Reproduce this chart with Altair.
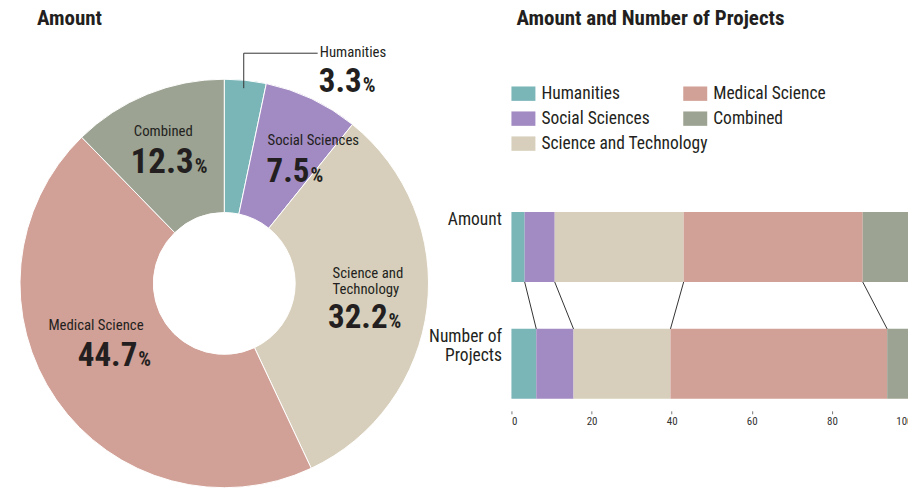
import altair as alt
import pandas as pd

# ---------------- data ----------------
categories = ["Humanities", "Social Sciences", "Science and Technology", "Medical Science", "Combined"]
donut_names = ["Humanities", "Social Sciences", "Science and\nTechnology", "Medical Science", "Combined"]
amount_pct = [3.3, 7.5, 32.2, 44.7, 12.3]
projects_pct = [6.2, 9.3, 24.2, 54.1, 6.2]
series_names = ["Amount", "Number of Projects"]
series_keys = ["amt", "prj"]
colors = ["#7ab5b8", "#a28ac2", "#d7cfbb", "#d1a096", "#9ca392"]
x_ticks = [0, 20, 40, 60, 80, 100]

rows = []
for key, name, vals in zip(series_keys, series_names, [amount_pct, projects_pct]):
    for i, (c, v) in enumerate(zip(categories, vals)):
        rows.append({"key": key, "series": name, "category": c, "idx": i,
                     "value": v, "dname": donut_names[i]})
df = pd.DataFrame(rows)

# ---------------- layout constants ----------------
FONT = "Roboto Condensed, Liberation Sans Narrow, DejaVu Sans Condensed, sans-serif"
INK = "#231f20"
T = 37                      # page y of plot-area tops
W1, W2 = 400, 401
H = 411 - T
CX, CY = 216.5, 283.5 - T   # donut centre inside left panel
R_OUT, R_IN = 204.5, 71
SHIFT = 3.5                 # labels keep their place while the centre moves up
NAME_SIZE = 14.8
NUM_SIZE = 33
PCT_SIZE = 20


def stacked():
    return alt.Chart(df).transform_window(
        cum="sum(value)", sort=[alt.SortField("idx")], groupby=["key"], frame=[None, 0]
    ).transform_calculate(
        start="datum.cum - datum.value", mid="datum.cum - datum.value / 2"
    )


theta_scale = alt.Scale(domain=[0, 100])

# ---------------- donut ----------------
arcs = stacked().transform_filter("datum.key == 'amt'").mark_arc(
    innerRadius=R_IN, outerRadius=R_OUT, stroke="white", strokeWidth=1
).encode(
    theta=alt.Theta("start:Q", scale=theta_scale, stack=False),
    theta2="cum:Q",
    color=alt.Color("category:N", scale=alt.Scale(domain=categories, range=colors), legend=None),
    x=alt.value(CX), y=alt.value(CY),
)

# per label: radius along mid angle, offsets for name and number
label_layout = {
    "Humanities": dict(r=199, name=(75, -32), num=(117, 3), size=NUM_SIZE),
    "Social Sciences": dict(r=150, name=(-21, -6.5), num=(21, 30.5), size=NUM_SIZE),
    "Science and Technology": dict(r=145, name=(-35.5, -25.8), num=(19.5, 23.7), size=NUM_SIZE),
    "Medical Science": dict(r=140, name=(-61, -36.5), num=(28, -0.5), size=NUM_SIZE),
    "Combined": dict(r=150, name=(-34, -12), num=(26, 25), size=NUM_SIZE + 2),
}

text_layers = []
for cat in categories:
    lay = label_layout[cat]
    base = stacked().transform_filter(
        f"datum.key == 'amt' && datum.category == '{cat}'"
    )
    enc = dict(theta=alt.Theta("mid:Q", scale=theta_scale, stack=False),
               x=alt.value(CX), y=alt.value(CY))
    text_layers.append(base.mark_text(
        radius=lay["r"], dx=lay["name"][0], dy=lay["name"][1] + SHIFT, align="left",
        baseline="alphabetic", font=FONT, fontSize=NAME_SIZE, color=INK,
        lineBreak="\n", lineHeight=16,
    ).encode(text="dname:N", **enc))
    text_layers.append(base.mark_text(
        radius=lay["r"], dx=lay["num"][0], dy=lay["num"][1] + SHIFT, align="right",
        baseline="alphabetic", font=FONT, fontSize=lay["size"], fontWeight="bold", color=INK,
    ).encode(text=alt.Text("value:Q", format=".1f"), **enc))
    text_layers.append(base.mark_text(
        radius=lay["r"], dx=lay["num"][0] + 1, dy=lay["num"][1] + SHIFT, align="left",
        baseline="alphabetic", font=FONT, fontSize=PCT_SIZE, fontWeight="bold", color=INK,
    ).encode(text=alt.value("%"), **enc))

hum = stacked().transform_filter("datum.key == 'amt' && datum.idx == 0")
leader_v = hum.mark_rule(color="#333333", strokeWidth=1).encode(
    x=alt.value(236), y=alt.value(88 - T), y2=alt.value(53 - T))
leader_h = hum.mark_rule(color="#333333", strokeWidth=1).encode(
    x=alt.value(236), x2=alt.value(310), y=alt.value(53 - T))

TITLE_KW = dict(anchor="start", font=FONT, fontSize=21, fontWeight="bold",
                color=INK, offset=8, frame="group")

left = alt.layer(arcs, *text_layers, leader_v, leader_h).properties(
    width=W1, height=H,
    title=alt.TitleParams("Amount", dx=29, **TITLE_KW),
)

# ---------------- stacked bars ----------------
x_scale = alt.Scale(domain=[0, 100])
y_scale = alt.Scale(domain=series_names, range=[212 - T, 399 - T],
                    paddingInner=0.4, paddingOuter=0)
sym = "M-1,-0.6H1V0.6H-1Z"

x_axis = alt.Axis(values=x_ticks, title="", grid=False, domain=False, tickSize=3,
                  tickColor="#777777", labelFontSize=11, labelPadding=2, labelFont=FONT,
                  labelColor="#333333")
y_axis = alt.Axis(title="", ticks=False, domain=False, labelPadding=10,
                  labelBaseline="top", labelFontSize=17.5, labelLineHeight=19.5,
                  labelFont=FONT, labelColor=INK, labelOffset=-36,
                  labelExpr="datum.value == 'Number of Projects' ? ['Number of', 'Projects'] : datum.value")


def legend(lx):
    return alt.Legend(title=None, orient="none", legendX=lx, legendY=81.5 - T,
                      direction="vertical", symbolType=sym, symbolSize=576,
                      symbolStrokeWidth=0, symbolOpacity=1, labelFont=FONT,
                      labelFontSize=17.5, labelColor=INK, labelOffset=6,
                      rowPadding=4, padding=0, labelLimit=300)


bars_a = stacked().transform_filter("datum.idx <= 2").mark_bar().encode(
    x=alt.X("start:Q", scale=x_scale, axis=x_axis),
    x2="cum:Q",
    y=alt.Y("series:N", scale=y_scale, axis=y_axis),
    color=alt.Color("category:N", scale=alt.Scale(domain=categories[:3], range=colors[:3]),
                    legend=legend(0)),
)

bars_b = stacked().transform_filter("datum.idx >= 3").mark_bar().encode(
    x=alt.X("start:Q", scale=x_scale, axis=x_axis),
    x2="cum:Q",
    y=alt.Y("series:N", scale=y_scale, axis=y_axis),
    color=alt.Color("category:N", scale=alt.Scale(domain=categories[3:], range=colors[3:]),
                    legend=legend(172)),
)

conn = stacked().transform_pivot("key", value="cum", groupby=["category", "idx"]).transform_filter(
    "datum.idx < 4"
).mark_rule(color="#333333", strokeWidth=1).encode(
    x=alt.X("amt:Q", scale=x_scale, axis=x_axis),
    x2="prj:Q",
    y=alt.value(282 - T), y2=alt.value(329 - T),
)

right = alt.layer(bars_a, bars_b, conn).resolve_scale(color="independent").properties(
    width=W2, height=H,
    title=alt.TitleParams("Amount and Number of Projects", dx=5, **TITLE_KW),
)

chart = alt.hconcat(left, right, spacing=512 - 8 - W1, bounds="flush").resolve_scale(
    color="independent"
).configure_view(strokeWidth=0).properties(
    padding={"left": 0, "top": 0, "right": -5, "bottom": 0}, background="white"
)

chart.save("out.html", embed_options={"renderer": "svg", "actions": False})
